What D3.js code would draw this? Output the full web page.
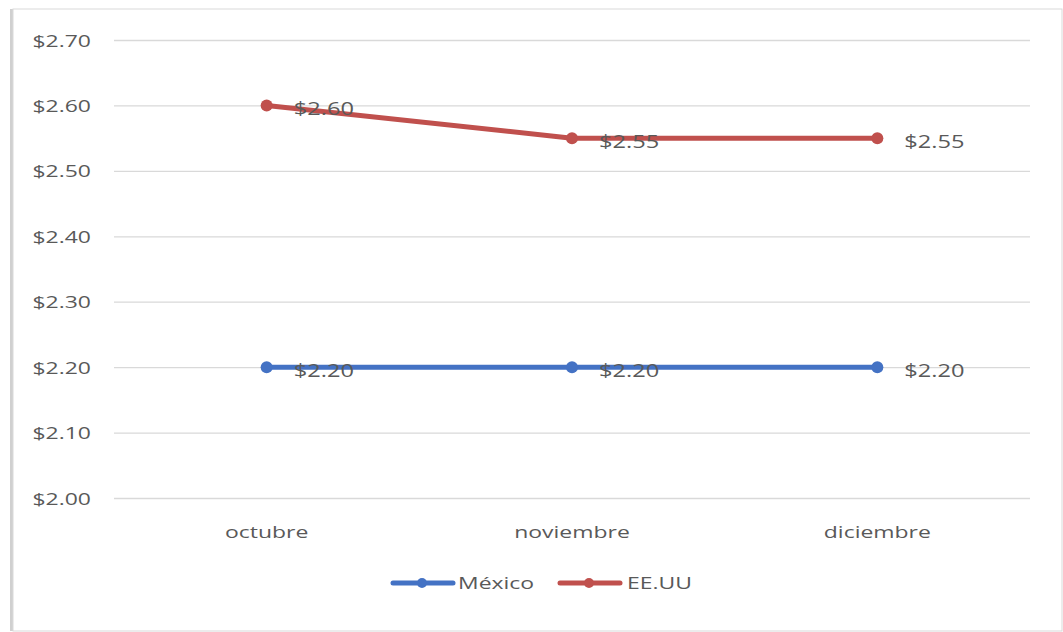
<!DOCTYPE html>
<html>
<head>
<meta charset="utf-8">
<script src="https://cdn.jsdelivr.net/npm/d3@7/dist/d3.min.js"></script>
<style>
  html, body { margin: 0; padding: 0; background: #fff; }
  svg { display: block; }
  text { font-family: "Open Sans", "Liberation Sans", sans-serif; fill: #595959; }
</style>
</head>
<body>
<svg id="chart" width="1063" height="632"></svg>
<script>
// Monthly price per series
const months = ["octubre", "noviembre", "diciembre"];
const mexico = [2.20, 2.20, 2.20];
const eeuu = [2.60, 2.55, 2.55];
const seriesNames = ["México", "EE.UU"];
const seriesColors = ["#4472C4", "#C0504D"];
const yTicks = [2.00, 2.10, 2.20, 2.30, 2.40, 2.50, 2.60, 2.70];

const svg = d3.select("#chart");
const STRETCH = 1.35; // wide lettering

// Chart frame with soft shadow on the left
svg.append("rect").attr("x", 10).attr("y", 9).attr("width", 4).attr("height", 622).attr("fill", "#d0d0d0");
svg.append("rect").attr("x", 13).attr("y", 9).attr("width", 1049).attr("height", 622)
  .attr("fill", "#fff").attr("stroke", "#d9d9d9").attr("stroke-width", 1);

const plot = { left: 114, right: 1030, top: 40, bottom: 498 };

const x = d3.scaleBand().domain(months).range([plot.left, plot.right]).paddingInner(0).paddingOuter(0);
const y = d3.scaleLinear().domain([2.00, 2.70]).range([plot.bottom, plot.top]);
const fmt = v => "$" + d3.format(".2f")(v);

// Horizontal gridlines with value labels
const yAxis = d3.axisLeft(y).tickValues(yTicks).tickSize(-(plot.right - plot.left)).tickFormat(fmt).tickPadding(23);
const gy = svg.append("g").attr("transform", `translate(${plot.left},0)`).call(yAxis);
gy.select(".domain").remove();
gy.selectAll(".tick line").attr("stroke", "#d9d9d9").attr("stroke-width", 1.3);
gy.selectAll(".tick text").attr("font-size", 17).attr("fill", "#595959").attr("dy", "0.36em");

// Category labels
const xAxis = d3.axisBottom(x).tickSize(0).tickPadding(28);
const gx = svg.append("g").attr("transform", `translate(0,${plot.bottom})`).call(xAxis);
gx.select(".domain").remove();
gx.selectAll(".tick text").attr("font-size", 17).attr("fill", "#595959");

const series = [mexico, eeuu];
const cx = m => x(m) + x.bandwidth() / 2;
const line = d3.line().x((d, i) => cx(months[i])).y(d => y(d));

series.forEach((vals, si) => {
  const g = svg.append("g");
  g.append("path").datum(vals).attr("d", line)
    .attr("fill", "none").attr("stroke", seriesColors[si])
    .attr("stroke-width", 5).attr("stroke-linecap", "round").attr("stroke-linejoin", "round");
  g.selectAll("circle").data(vals).join("circle")
    .attr("cx", (d, i) => cx(months[i])).attr("cy", d => y(d)).attr("r", 6)
    .attr("fill", seriesColors[si]);
  g.selectAll("text").data(vals).join("text")
    .attr("x", (d, i) => cx(months[i]) + 27).attr("y", d => y(d) + 10)
    .attr("font-size", 17.5).attr("fill", "#404040")
    .text(fmt);
});

// Legend
const legendItems = [{ x0: 393, tx: 458 }, { x0: 560, tx: 627 }];
const ly = 583;
seriesNames.forEach((name, i) => {
  const it = legendItems[i];
  svg.append("line").attr("x1", it.x0).attr("x2", it.x0 + 60).attr("y1", ly).attr("y2", ly)
    .attr("stroke", seriesColors[i]).attr("stroke-width", 5).attr("stroke-linecap", "round");
  svg.append("circle").attr("cx", it.x0 + 29).attr("cy", ly).attr("r", 5).attr("fill", seriesColors[i]);
  svg.append("text").attr("x", it.tx).attr("y", ly).attr("dy", "0.35em")
    .attr("font-size", 17).attr("fill", "#595959").text(name);
});

// Widen all lettering horizontally
svg.selectAll("text").each(function () {
  const w = this.getComputedTextLength();
  d3.select(this).attr("textLength", w * STRETCH).attr("lengthAdjust", "spacingAndGlyphs");
});
</script>
</body>
</html>
